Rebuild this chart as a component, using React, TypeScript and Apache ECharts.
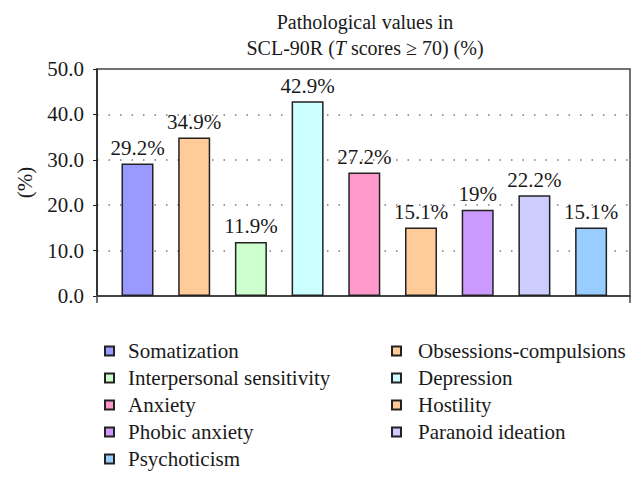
import React, { useEffect, useRef } from "react";
import * as echarts from "echarts";

const categories = [
  "Somatization",
  "Obsessions-compulsions",
  "Interpersonal sensitivity",
  "Depression",
  "Anxiety",
  "Hostility",
  "Phobic anxiety",
  "Paranoid ideation",
  "Psychoticism",
];
const values = [29.2, 34.9, 11.9, 42.9, 27.2, 15.1, 19, 22.2, 15.1];
const colors = [
  "#9999FF",
  "#FFCC99",
  "#CCFFCC",
  "#CCFFFF",
  "#FF99CC",
  "#FFCC99",
  "#CC99FF",
  "#CCCCFF",
  "#99CCFF",
];
const legendLeft = ["Somatization", "Interpersonal sensitivity", "Anxiety", "Phobic anxiety", "Psychoticism"];
const legendRight = ["Obsessions-compulsions", "Depression", "Hostility", "Paranoid ideation"];
const yMin = 0;
const yMax = 50;
const yStep = 10;

const FONT = "Times New Roman, Liberation Serif, DejaVu Serif, serif";
const TXT = "#1a1a1a";

export default function App() {
  const ref = useRef<HTMLDivElement>(null);
  useEffect(() => {
    document.body.style.margin = "0";
    const chart = echarts.init(ref.current!, null, { renderer: "svg" });
    const series = categories.map((name, i) => ({
      name,
      type: "bar",
      xAxisIndex: 1,
      yAxisIndex: 1,
      barWidth: 32,
      barGap: "-100%",
      data: categories.map((_, j) => (j === i ? values[i] : null)),
      itemStyle: { color: colors[i], borderColor: "#222", borderWidth: 1.5 },
      label: {
        show: true,
        position: "top",
        distance: 5,
        formatter: "{c}%",
        fontFamily: FONT,
        fontSize: 21,
        color: TXT,
      },
    }));
    const legendCommon = {
      orient: "vertical",
      top: 332.5,
      itemWidth: 9,
      itemHeight: 9,
      itemGap: 0,
      icon: "rect",
      textStyle: { fontFamily: FONT, fontSize: 21, color: TXT, lineHeight: 27 },
    };
    chart.setOption({
      animation: false,
      textStyle: { fontFamily: FONT },
      title: {
        text: "Pathological values in\nSCL-90R ({i|T} scores ≥ 70) (%)",
        left: 360,
        top: 4,
        textAlign: "center",
        textStyle: {
          fontFamily: FONT,
          fontSize: 20,
          fontWeight: "normal",
          color: TXT,
          lineHeight: 26,
          rich: {
            i: { fontFamily: FONT, fontSize: 20, fontStyle: "italic", color: TXT, lineHeight: 26 },
          },
        },
      },
      legend: [
        { ...legendCommon, left: 99, data: legendLeft, textStyle: { ...legendCommon.textStyle, padding: [0, 0, 0, 9] } },
        { ...legendCommon, left: 386, data: legendRight, textStyle: { ...legendCommon.textStyle, padding: [0, 0, 0, 12] } },
      ],
      grid: [
        { left: 97, right: 14, top: 69, bottom: 188, show: true, borderColor: "#444", borderWidth: 1.5, backgroundColor: "transparent" },
        { left: 109.15, right: 24.55, top: 69, bottom: 188 },
      ],
      xAxis: [
        {
          gridIndex: 0,
          type: "category",
          data: [""],
          axisLine: { show: true, lineStyle: { color: "#444", width: 2 } },
          axisTick: { show: true, length: 7, lineStyle: { color: "#444", width: 1.5 } },
          axisLabel: { show: false },
        },
        {
          gridIndex: 1,
          type: "category",
          data: categories,
          axisLine: { show: false },
          axisTick: { show: false },
          axisLabel: { show: false },
        },
      ],
      yAxis: [
        {
          gridIndex: 0,
          type: "value",
          min: yMin,
          max: yMax,
          interval: yStep,
          name: "(%)",
          nameLocation: "middle",
          nameRotate: 90,
          nameGap: 62,
          nameTextStyle: { fontFamily: FONT, fontSize: 21, color: TXT },
          axisLine: { show: true, lineStyle: { color: "#222", width: 1.5 } },
          axisTick: { show: true, length: 4, inside: false, lineStyle: { color: "#222" } },
          axisLabel: {
            margin: 13,
            fontFamily: FONT,
            fontSize: 21,
            color: TXT,
            formatter: (v: number) => v.toFixed(1),
          },
          splitLine: { show: true, lineStyle: { color: "#777", type: [1.5, 10], width: 1.5 } },
        },
        {
          gridIndex: 1,
          type: "value",
          min: yMin,
          max: yMax,
          interval: yStep,
          axisLine: { show: false },
          axisTick: { show: false },
          axisLabel: { show: false },
          splitLine: { show: false },
        },
      ],
      series,
    });
    return () => chart.dispose();
  }, []);
  return <div ref={ref} style={{ width: 644, height: 484 }} />;
}
